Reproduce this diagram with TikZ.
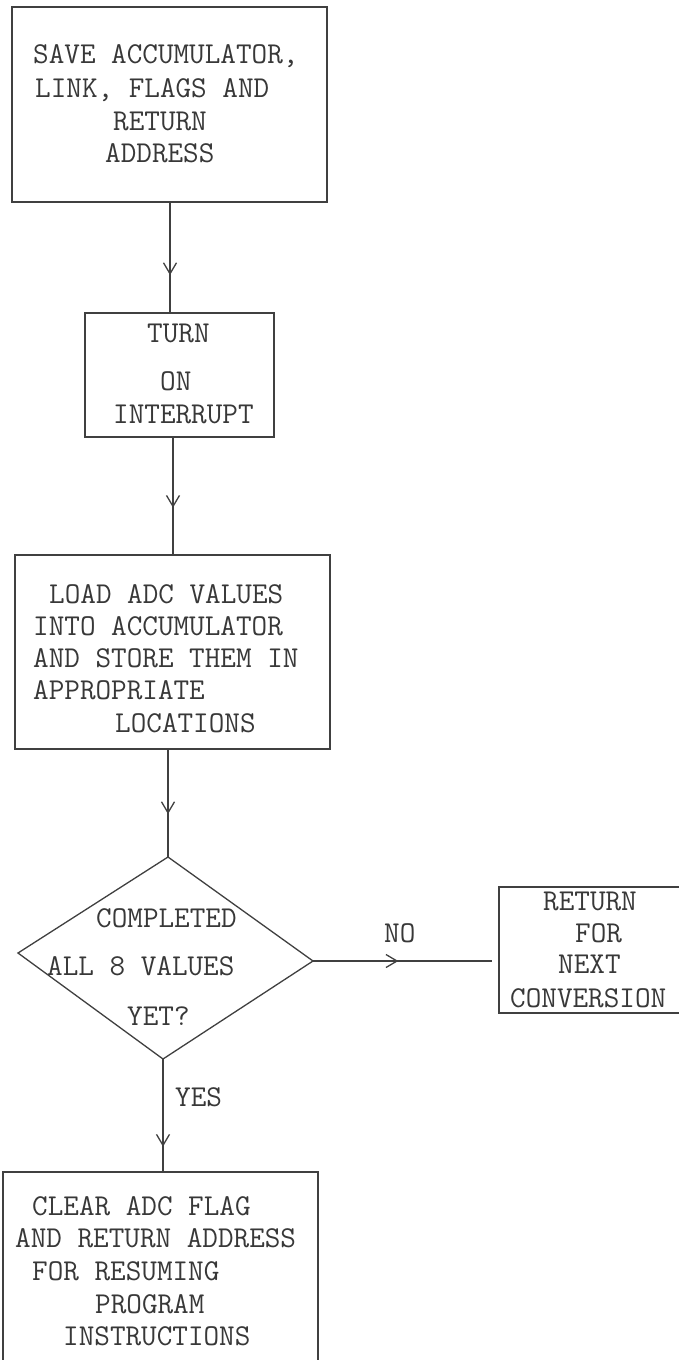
\documentclass[tikz,border=0pt]{standalone}
\usetikzlibrary{arrows.meta,decorations.markings}
\begin{document}
\begin{tikzpicture}[x=1pt,y=-1pt,
  ln/.style={draw=black!75, line width=1.3pt},
  box/.style={ln, rectangle, inner sep=0pt},
  txt/.style={anchor=base west, inner sep=0pt, text=black!78,
    font=\ttfamily\fontsize{30.3}{33}\selectfont},
  flow/.style={ln, postaction={decorate}, decoration={markings,
    mark=at position #1 with {\arrow[black!75,line width=1.3pt]{Straight Barb[length=11pt,width=13pt]}}}}
]
\clip (0,0) rectangle (679,1360);
\fill[white] (0,0) rectangle (679,1360);

% boxes
\node[box, minimum width=315pt, minimum height=195pt] (b1) at (169.5,104.5) {};
\node[box, minimum width=189pt, minimum height=124pt] (b2) at (179.5,375) {};
\node[box, minimum width=315pt, minimum height=194pt] (b3) at (172.5,652) {};
\node[box, minimum width=182pt, minimum height=126pt] (rb) at (590,950) {};
\node[box, minimum width=315pt, minimum height=208pt] (b5) at (160.5,1276) {};

% decision diamond
\coordinate (dtop) at (168,857);
\coordinate (dright) at (313,961);
\coordinate (dbot) at (163,1059);
\coordinate (dleft) at (18,953);
\draw[ln] (dtop) -- (dright) -- (dbot) -- (dleft) -- cycle;

% texts
\node[txt] (t11) at (33,63) {SAVE ACCUMULATOR,};
\node[txt] (t12) at (35,97) {LINK, FLAGS AND};
\node[txt] (t13) at (113,130) {RETURN};
\node[txt] (t14) at (105,162) {ADDRESS};

\node[txt] (t21) at (147,342) {TURN};
\node[txt] (t22) at (160,390) {ON};
\node[txt] (t23) at (113,423) {INTERRUPT};

\node[txt] (t31) at (49,603) {LOAD ADC VALUES};
\node[txt] (t32) at (33,635) {INTO ACCUMULATOR};
\node[txt] (t33) at (33,667) {AND STORE THEM IN};
\node[txt] (t34) at (33,699) {APPROPRIATE};
\node[txt] (t35) at (115,732) {LOCATIONS};

\node[txt] (t41) at (96,927) {COMPLETED};
\node[txt] (t42) at (47,975) {ALL 8 VALUES};
\node[txt] (t43) at (127,1025) {YET?};

\node[txt] (t51) at (543,910) {RETURN};
\node[txt] (t52) at (575,942) {FOR};
\node[txt] (t53) at (558,973) {NEXT};
\node[txt] (t54) at (510,1007) {CONVERSION};

\node[txt] (t61) at (32,1215) {CLEAR ADC FLAG};
\node[txt] (t62) at (15,1247) {AND RETURN ADDRESS};
\node[txt] (t63) at (32,1280) {FOR RESUMING};
\node[txt] (t64) at (95,1313) {PROGRAM};
\node[txt] (t65) at (63,1345) {INSTRUCTIONS};

% edge labels
\node[txt] (lno) at (384,942) {NO};
\node[txt] (lyes) at (175,1106) {YES};

% connectors
\draw[flow=0.66] ([xshift=0.5pt]b1.south) -- ([xshift=0.5pt]b1.south |- b2.north);
\draw[flow=0.60] ([xshift=-6.5pt]b2.south) -- ([xshift=-6.5pt]b2.south |- b3.north);
\draw[flow=0.60] (dtop |- b3.south) -- (dtop);
\draw[flow=0.46, shorten >=6pt] (dright) -- (dright -| rb.west);
\draw[flow=0.78] (dbot) -- (dbot |- b5.north);
\end{tikzpicture}
\end{document}
